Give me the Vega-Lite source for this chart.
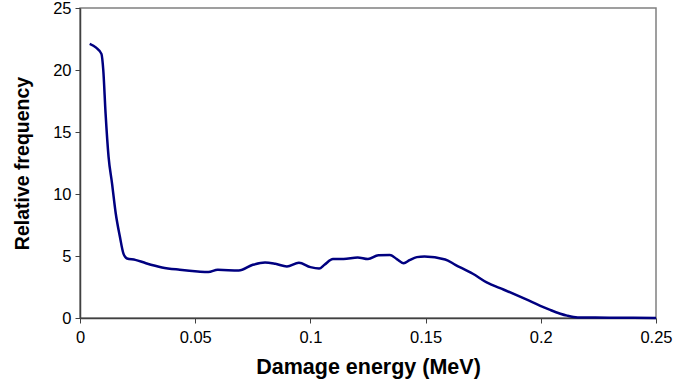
{
  "$schema": "https://vega.github.io/schema/vega-lite/v6.json",
  "autosize": {"type": "none"},
  "width": 576,
  "height": 310,
  "padding": {"left": 80, "top": 8, "right": 18, "bottom": 65},
  "background": "white",
  "config": {
    "view": {"stroke": "#808080", "strokeWidth": 1.5},
    "font": "Liberation Sans",
    "axis": {
      "grid": false,
      "domainColor": "#404040",
      "domainWidth": 1.5,
      "tickColor": "#404040",
      "tickSize": 5,
      "labelFont": "Liberation Sans",
      "labelFontSize": 16.5,
      "labelColor": "#000",
      "labelFlush": false,
      "labelOverlap": false,
      "titleFont": "Liberation Sans",
      "titleFontWeight": "bold",
      "titleColor": "#000"
    }
  },
  "data": {
    "values": [
      {"energy": 0.0042, "freq": 22.1},
      {"energy": 0.007, "freq": 21.8},
      {"energy": 0.0093, "freq": 21.3},
      {"energy": 0.0101, "freq": 20.0},
      {"energy": 0.0111, "freq": 16.5},
      {"energy": 0.0124, "freq": 13.0},
      {"energy": 0.0139, "freq": 10.86},
      {"energy": 0.0155, "freq": 8.45},
      {"energy": 0.0173, "freq": 6.57},
      {"energy": 0.0189, "freq": 5.17},
      {"energy": 0.0204, "freq": 4.8},
      {"energy": 0.024, "freq": 4.69},
      {"energy": 0.0286, "freq": 4.42},
      {"energy": 0.0356, "freq": 4.08},
      {"energy": 0.0433, "freq": 3.89},
      {"energy": 0.0511, "freq": 3.75},
      {"energy": 0.0557, "freq": 3.7},
      {"energy": 0.0598, "freq": 3.89},
      {"energy": 0.0689, "freq": 3.83},
      {"energy": 0.075, "freq": 4.29},
      {"energy": 0.0803, "freq": 4.48},
      {"energy": 0.0848, "freq": 4.37},
      {"energy": 0.0898, "freq": 4.16},
      {"energy": 0.095, "freq": 4.45},
      {"energy": 0.1, "freq": 4.1},
      {"energy": 0.1038, "freq": 3.99},
      {"energy": 0.1061, "freq": 4.29},
      {"energy": 0.1098, "freq": 4.75},
      {"energy": 0.1144, "freq": 4.75},
      {"energy": 0.1205, "freq": 4.88},
      {"energy": 0.125, "freq": 4.75},
      {"energy": 0.1295, "freq": 5.07},
      {"energy": 0.1345, "freq": 5.09},
      {"energy": 0.1375, "freq": 4.75},
      {"energy": 0.1405, "freq": 4.42},
      {"energy": 0.143, "freq": 4.66},
      {"energy": 0.1462, "freq": 4.91},
      {"energy": 0.1495, "freq": 4.96},
      {"energy": 0.1585, "freq": 4.72},
      {"energy": 0.1629, "freq": 4.29},
      {"energy": 0.1705, "freq": 3.57},
      {"energy": 0.1765, "freq": 2.87},
      {"energy": 0.184, "freq": 2.28},
      {"energy": 0.1947, "freq": 1.42},
      {"energy": 0.2038, "freq": 0.67},
      {"energy": 0.2114, "freq": 0.19},
      {"energy": 0.216, "freq": 0.05},
      {"energy": 0.2297, "freq": 0.03},
      {"energy": 0.25, "freq": 0.0}
    ]
  },
  "mark": {"type": "line", "color": "#000080", "strokeWidth": 2.5, "interpolate": "monotone"},
  "encoding": {
    "x": {
      "field": "energy",
      "type": "quantitative",
      "scale": {"domain": [0, 0.25], "nice": false},
      "axis": {"values": [0, 0.05, 0.1, 0.15, 0.2, 0.25], "format": "~g", "title": "Damage energy (MeV)", "titleFontSize": 21.5, "labelPadding": 6, "titlePadding": 11}
    },
    "y": {
      "field": "freq",
      "type": "quantitative",
      "scale": {"domain": [0, 25], "nice": false},
      "axis": {"values": [0, 5, 10, 15, 20, 25], "title": "Relative frequency", "titleFontSize": 19.5, "labelPadding": 4, "titlePadding": 20}
    }
  }
}
